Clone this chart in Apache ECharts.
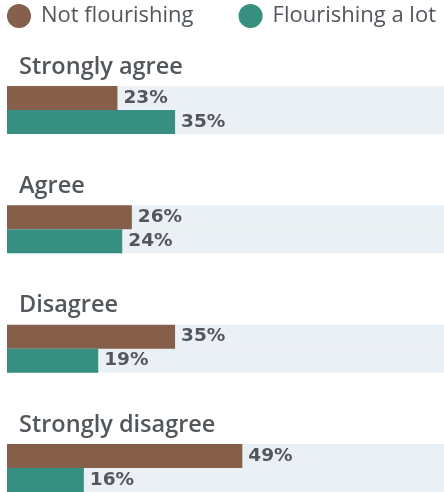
<!DOCTYPE html>
<html>
<head>
<meta charset="utf-8">
<script src="https://cdn.jsdelivr.net/npm/echarts@6/dist/echarts.min.js"></script>
<style>
  html, body { margin: 0; padding: 0; background: #ffffff; }
  #chart { width: 444px; height: 492px; }
</style>
</head>
<body>
<div id="chart"></div>
<script>
// Survey responses by group
const categories = ['Strongly agree', 'Agree', 'Disagree', 'Strongly disagree'];
const notFlourishing = [23, 26, 35, 49];
const flourishingALot = [35, 24, 19, 16];
const seriesNames = ['Not flourishing', 'Flourishing a lot'];

const textColor = '#52575c';
const bandColor = '#ebf0f5';

const chart = echarts.init(document.getElementById('chart'));

function barSeries(name, values, color) {
  return {
    name: name,
    type: 'bar',
    data: values,
    barWidth: 24,
    barGap: '0%',
    itemStyle: { color: color },
    showBackground: true,
    backgroundStyle: { color: bandColor },
    label: {
      show: true,
      position: 'right',
      distance: 6,
      formatter: '{c}%',
      color: textColor,
      fontFamily: 'DejaVu Sans',
      fontWeight: 'bold',
      fontSize: 18.5
    }
  };
}

chart.setOption({
  animation: false,
  legend: {
    left: 7,
    top: 4,
    padding: 0,
    icon: 'circle',
    itemWidth: 24,
    itemHeight: 24,
    itemGap: 45,
    data: seriesNames,
    textStyle: {
      color: textColor,
      fontFamily: 'Open Sans',
      fontSize: 22,
      padding: [0, 0, 0, 5]
    }
  },
  // first and last groups sit on the grid edges; each group is 48px tall
  grid: { left: 7, right: 0, top: 110, height: 358, containLabel: false },
  xAxis: {
    type: 'value',
    min: 0,
    max: 91,
    show: false
  },
  yAxis: {
    type: 'category',
    data: categories,
    inverse: true,
    boundaryGap: false,
    axisLine: { show: false },
    axisTick: { show: false },
    splitLine: { show: false },
    axisLabel: {
      inside: true,
      margin: 12,
      align: 'left',
      verticalAlign: 'bottom',
      padding: [0, 0, 31, 0],
      color: textColor,
      fontFamily: 'Open Sans',
      fontWeight: 600,
      fontSize: 23.5
    }
  },
  series: [
    barSeries(seriesNames[0], notFlourishing, '#855f49'),
    barSeries(seriesNames[1], flourishingALot, '#368f80')
  ]
});
</script>
</body>
</html>
